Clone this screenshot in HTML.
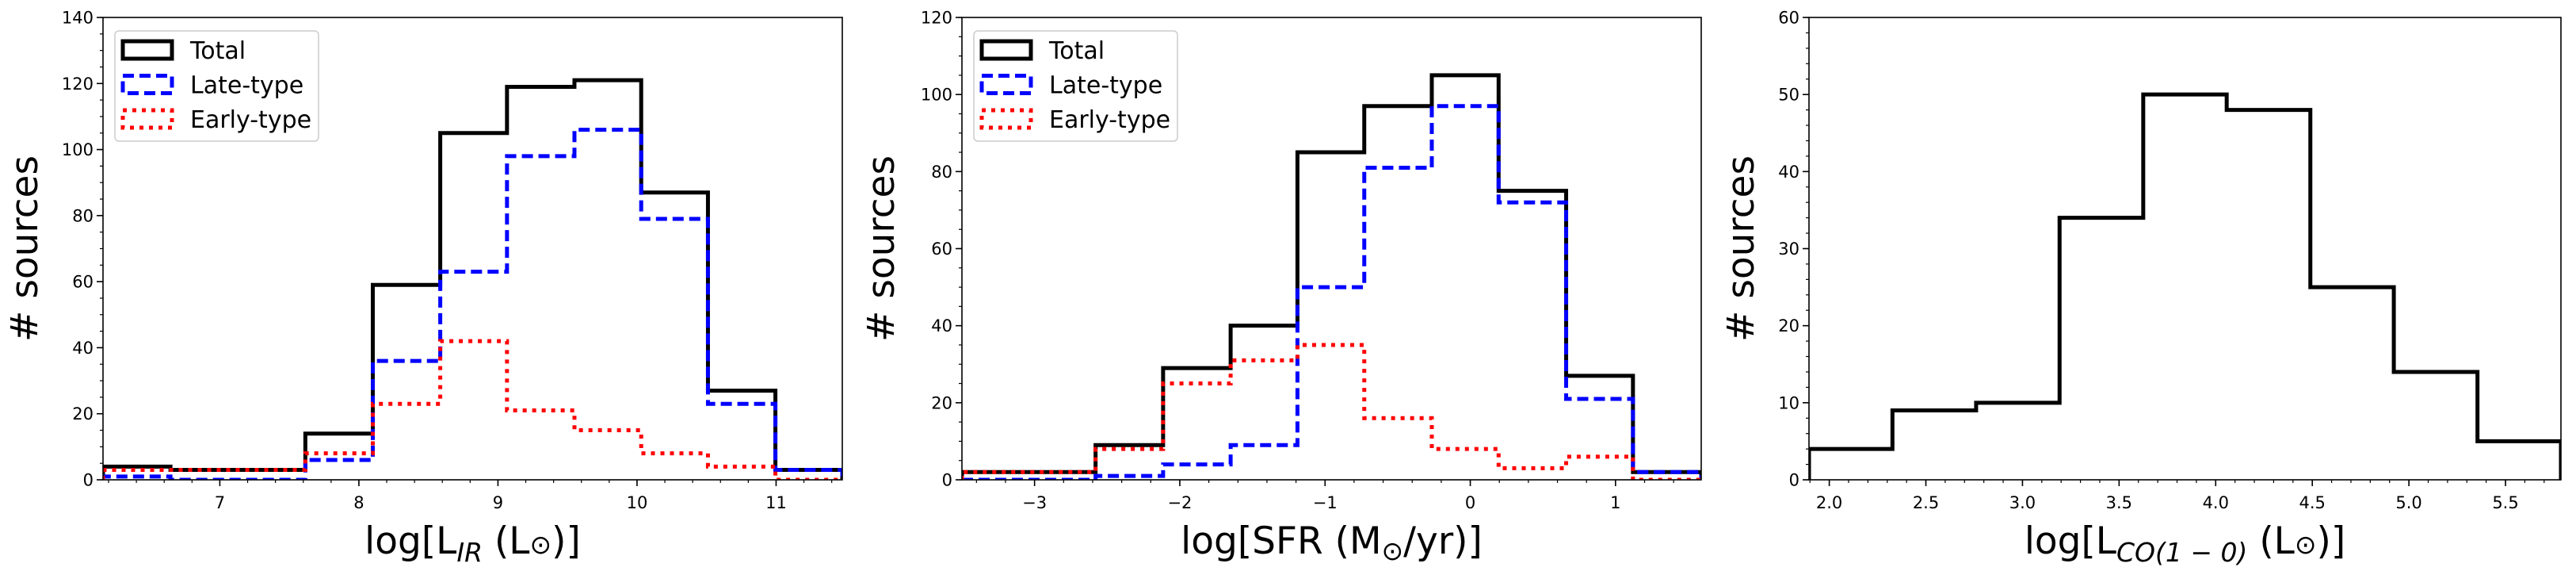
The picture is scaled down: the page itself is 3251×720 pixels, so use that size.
<!DOCTYPE html>
<html><head><meta charset="utf-8">
<style>
html,body{margin:0;padding:0;background:#fff;}
svg{display:block;font-family:"DejaVu Sans","Liberation Sans",sans-serif;}
</style></head>
<body>
<svg id="fig" width="3251" height="720" viewBox="0 0 3251 720" xmlns="http://www.w3.org/2000/svg"></svg>
<script>
// ---- Panel 1: log L_IR ----
const irEdges = [6.16,6.645,7.13,7.615,8.10,8.585,9.065,9.55,10.03,10.51,10.995,11.476];
const irTotal = [4,3,3,14,59,105,119,121,87,27,3];
const irLate  = [1,0,0,6,36,63,98,106,79,23,3];
const irEarly = [3,3,3,8,23,42,21,15,8,4,0];
const irXTicks = [7,8,9,10,11];
const irYTicks = [0,20,40,60,80,100,120,140];
// ---- Panel 2: log SFR ----
const sfrEdges = [-3.50,-3.04,-2.58,-2.115,-1.65,-1.19,-0.73,-0.265,0.195,0.66,1.12,1.59];
const sfrTotal = [2,2,9,29,40,85,97,105,75,27,2];
const sfrLate  = [0,0,1,4,9,50,81,97,72,21,2];
const sfrEarly = [2,2,8,25,31,35,16,8,3,6,0];
const sfrXTicks = [-3,-2,-1,0,1];
const sfrYTicks = [0,20,40,60,80,100,120];
// ---- Panel 3: log L_CO ----
const coEdges = [1.895,2.327,2.76,3.192,3.625,4.057,4.49,4.922,5.355,5.787];
const coTotal = [4,9,10,34,50,48,25,14,5];
const coXTicks = [2.0,2.5,3.0,3.5,4.0,4.5,5.0,5.5];
const coYTicks = [0,10,20,30,40,50,60];

const NS = "http://www.w3.org/2000/svg";
const svg = document.getElementById('fig');
function mk(tag, attrs, parent){
  const e = document.createElementNS(NS, tag);
  for (const k in attrs) e.setAttribute(k, attrs[k]);
  (parent||svg).appendChild(e);
  return e;
}

function panel(cfg){
  const {L,R,T,B,xmin,xmax,ymax,xTicks,yTicks,xMinorStep,yMinorStep,xDec,id} = cfg;
  const g = mk('g', {});
  
  
  const xs = v => L + (v - xmin) / (xmax - xmin) * (R - L);
  const ys = v => B - v / ymax * (B - T);
  const clip = mk('clipPath', {id: id + '-clip'}, g);
  mk('rect', {x: L, y: T - 3, width: R - L, height: B - T + 3}, clip);
  const plot = mk('g', {'clip-path': 'url(#' + id + '-clip)'}, g);
  
  

  const series = cfg.series;
  series.forEach(s => {
    let d = 'M' + xs(s.edges[0]) + ',' + ys(0);
    for (let i = 0; i < s.vals.length; i++) {
      d += ' L' + xs(s.edges[i]) + ',' + ys(s.vals[i]);
      d += ' L' + xs(s.edges[i+1]) + ',' + ys(s.vals[i]);
    }
    d += ' L' + xs(s.edges[s.vals.length]) + ',' + ys(0);
    const p = mk('path', {d: d, fill: 'none', stroke: s.color, 'stroke-width': s.w,
      'stroke-dasharray': s.dash || 'none', 'stroke-linejoin': 'miter'}, plot);
    
    
  });

  // frame
  const fr = mk('rect', {x: L, y: T, width: R - L, height: B - T, fill: 'none', stroke: '#000', 'stroke-width': 1.6}, g);
  
  

  // x ticks
  const xt = mk('g', {}, g);
  
  
  const start = Math.ceil((xmin - 1e-9) / xMinorStep);
  for (let k = start; k * xMinorStep <= xmax + 1e-9; k++) {
    const v = k * xMinorStep;
    mk('line', {x1: xs(v), x2: xs(v), y1: B, y2: B + 4, stroke: '#000', 'stroke-width': 1.2}, xt);
  }
  xTicks.forEach(v => {
    mk('line', {x1: xs(v), x2: xs(v), y1: B, y2: B + 8, stroke: '#000', 'stroke-width': 1.6}, xt);
    const t = mk('text', {x: xs(v), y: 641, 'font-size': 21, 'text-anchor': 'middle', fill: '#000'}, xt);
    
    
    t.textContent = (v < 0 ? '\u2212' + Math.abs(v).toFixed(xDec) : v.toFixed(xDec));
  });
  // y ticks
  const yt = mk('g', {}, g);
  
  
  for (let v = 0; v <= ymax + 1e-9; v += yMinorStep) {
    mk('line', {x1: L - 4, x2: L, y1: ys(v), y2: ys(v), stroke: '#000', 'stroke-width': 1.2}, yt);
  }
  yTicks.forEach(v => {
    mk('line', {x1: L - 8, x2: L, y1: ys(v), y2: ys(v), stroke: '#000', 'stroke-width': 1.6}, yt);
    const t = mk('text', {x: L - 12, y: ys(v) + 7.5, 'font-size': 21, 'text-anchor': 'end', fill: '#000'}, yt);
    
    
    t.textContent = String(v);
  });
  // y label
  const yl = mk('text', {x: 0, y: 0, 'font-size': 47, 'text-anchor': 'middle', fill: '#000',
    transform: 'translate(' + (cfg.ylabX) + ',' + ((T + B) / 2) + ') rotate(-90)'}, g);
  
  
  yl.textContent = '# sources';
  // x label
  const xl = mk('text', {x: (L + R) / 2, y: 698, 'font-size': 47, 'text-anchor': 'middle', fill: '#000'}, g);
  
  
  xl.innerHTML = cfg.xlabel;

  // legend
  if (cfg.legend) {
    const lg = mk('g', {}, g);
    
    
    const lx = L + 15;
    mk('rect', {x: lx, y: 39, width: 257, height: 139, rx: 5, fill: '#fff', 'fill-opacity': 0.8, stroke: '#ccc', 'stroke-width': 1.5}, lg);
    series.forEach((s, i) => {
      const cy = 63 + i * 43.5;
      const ent = mk('g', {}, lg);
      
      
      mk('rect', {x: lx + 10, y: cy - 11, width: 62, height: 22, fill: 'none', stroke: s.color, 'stroke-width': s.w, 'stroke-dasharray': s.dash || 'none'}, ent);
      const t = mk('text', {x: lx + 95, y: cy + 11, 'font-size': 30, fill: '#000'}, ent);
      t.textContent = s.label;
    });
  }
}

const sTot = (e, v) => ({name: 'total', label: 'Total', edges: e, vals: v, color: '#000', w: 5});
const sLate = (e, v) => ({name: 'late-type', label: 'Late-type', edges: e, vals: v, color: '#0000ff', w: 5, dash: '14,7'});
const sEarly = (e, v) => ({name: 'early-type', label: 'Early-type', edges: e, vals: v, color: '#ff0000', w: 5, dash: '5,7'});

panel({id: 'lir', L: 130, R: 1063, T: 22, B: 605, xmin: 6.16, xmax: 11.476, ymax: 140,
  xTicks: irXTicks, yTicks: irYTicks, xMinorStep: 0.2, yMinorStep: 5, xDec: 0, ylabX: 47, legend: true,
  xlabel: 'log[L<tspan font-size="33" font-style="italic" dy="10">IR</tspan><tspan dy="-10"> (L</tspan><tspan font-size="33">\u2299</tspan>)]',
  series: [sTot(irEdges, irTotal), sLate(irEdges, irLate), sEarly(irEdges, irEarly)]});

panel({id: 'sfr', L: 1214, R: 2147, T: 22, B: 605, xmin: -3.50, xmax: 1.59, ymax: 120,
  xTicks: sfrXTicks, yTicks: sfrYTicks, xMinorStep: 0.2, yMinorStep: 5, xDec: 0, ylabX: 1128, legend: true,
  xlabel: 'log[SFR (M<tspan font-size="33" dy="8">\u2299</tspan><tspan dy="-8">/yr)]</tspan>',
  series: [sTot(sfrEdges, sfrTotal), sLate(sfrEdges, sfrLate), sEarly(sfrEdges, sfrEarly)]});

panel({id: 'lco', L: 2283, R: 3232, T: 22, B: 605, xmin: 1.895, xmax: 5.787, ymax: 60,
  xTicks: coXTicks, yTicks: coYTicks, xMinorStep: 0.1, yMinorStep: 2, xDec: 1, ylabX: 2213, legend: false,
  xlabel: 'log[L<tspan font-size="33" font-style="italic" dy="10">CO(1 \u2212 0)</tspan><tspan dy="-10"> (L</tspan><tspan font-size="33">\u2299</tspan>)]',
  series: [sTot(coEdges, coTotal)]});
</script>
</body></html>
